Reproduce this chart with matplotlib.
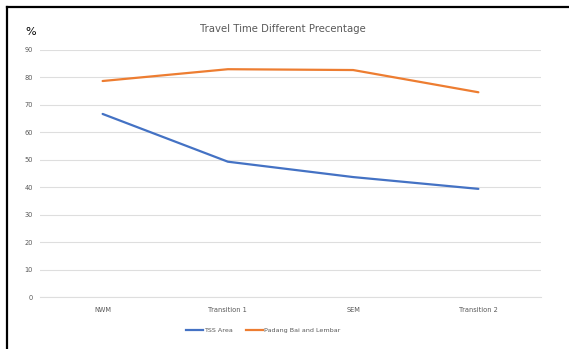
import matplotlib
matplotlib.use("Agg")
import matplotlib.pyplot as plt
from matplotlib.lines import Line2D

categories = ["NWM", "Transition 1", "SEM", "Transition 2"]
tss_area = [66.7, 49.3, 43.7, 39.4]
padang_lembar = [78.7, 83.0, 82.7, 74.6]
series_names = ["TSS Area", "Padang Bai and Lembar"]
yticks = [0, 10, 20, 30, 40, 50, 60, 70, 80, 90]

plt.rcParams["font.family"] = ["Liberation Sans Narrow", "DejaVu Sans"]

W, H = 569, 349
fig = plt.figure(figsize=(W / 100, H / 100), dpi=100)
fig.patch.set_facecolor("white")

# border (top and left visible)
fig.add_artist(Line2D([6.5 / W, 6.5 / W], [0, 1 - 6.5 / H], transform=fig.transFigure,
                      color="black", lw=1.6))
fig.add_artist(Line2D([6.5 / W, 1], [1 - 6.5 / H, 1 - 6.5 / H], transform=fig.transFigure,
                      color="black", lw=1.6))

left, right = 40 / W, 541 / W
bottom, top = (H - 297) / H, (H - 50) / H
ax = fig.add_axes([left, bottom, right - left, top - bottom])

x = list(range(len(categories)))
ax.plot(x, tss_area, color="#4472C4", lw=1.6, solid_capstyle="round", zorder=3)
ax.plot(x, padang_lembar, color="#ED7D31", lw=1.6, solid_capstyle="round", zorder=3)

ax.set_xlim(-0.5, len(categories) - 0.5)
ax.set_ylim(0, 90)
ax.set_yticks(yticks)
ax.set_yticklabels([str(v) for v in yticks])
ax.set_xticks(x)
ax.set_xticklabels(categories)
ax.yaxis.grid(True, color="#DEDEDE", lw=0.8)
ax.set_axisbelow(True)
for s in ax.spines.values():
    s.set_visible(False)
ax.spines["bottom"].set_visible(True)
ax.spines["bottom"].set_color("#DEDEDE")
ax.spines["bottom"].set_linewidth(0.8)
ax.tick_params(axis="both", length=0, labelsize=4.8, labelcolor="#595959")
ax.tick_params(axis="y", pad=5)
ax.tick_params(axis="x", pad=7.5)

fig.text(283 / W, 1 - 29 / H, "Travel Time Different Precentage", ha="center", va="center",
         fontsize=7.3, color="#595959")
fig.text(31 / W, 1 - 32 / H, "%", ha="center", va="center", fontsize=8, color="black")

handles = [Line2D([], [], color="#4472C4", lw=1.6), Line2D([], [], color="#ED7D31", lw=1.6)]
fig.legend(handles, series_names, loc="center", bbox_to_anchor=(263 / W, 1 - 330 / H),
           ncol=2, frameon=False, fontsize=4.6, handlelength=2.8, handletextpad=0.1,
           columnspacing=2.0, labelcolor="#595959")

fig.savefig("out.png", dpi=100, facecolor="white")
